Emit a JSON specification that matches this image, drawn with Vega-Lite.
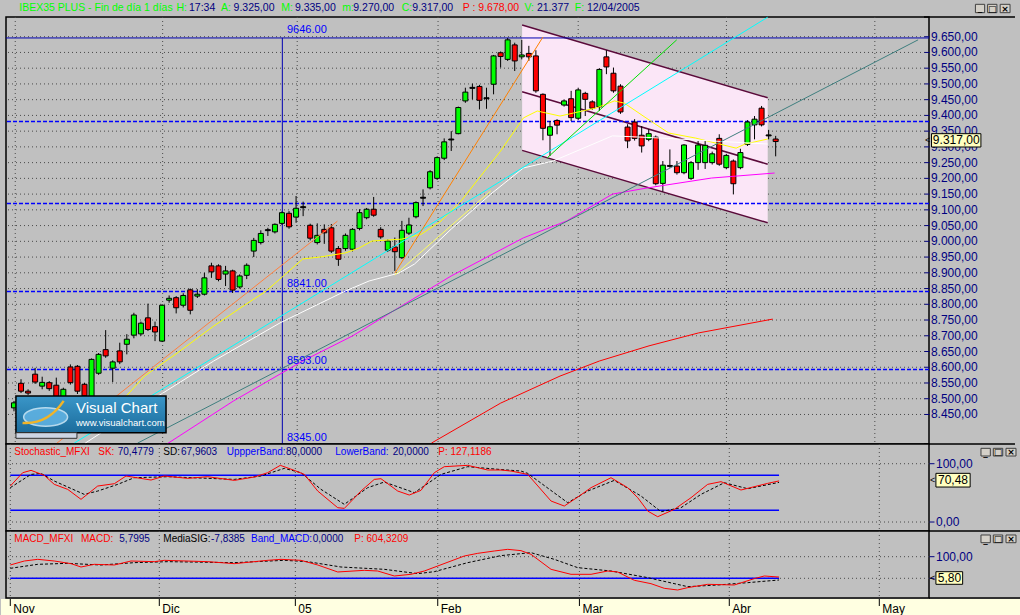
{
"$schema": "https://vega.github.io/schema/vega-lite/v6.json",
"background": "#c0c0c0",
"padding": 0,
"autosize": {"type": "pad"},
"spacing": 0,
"bounds": "flush",
"config": {"view": {"stroke": "#000000", "strokeWidth": 1.5, "fill": "#c0c0c0"}, "font": "Liberation Sans"},
"data": {"values": [{}]},
"datasets": {
"candles": [
{"i":1,"o":8471,"h":8493,"l":8460,"c":8487},{"i":2,"o":8549,"h":8562,"l":8518,"c":8524},{"i":3,"o":8524,"h":8530,"l":8512,"c":8518},{"i":4,"o":8578,"h":8598,"l":8547,"c":8553},{"i":5,"o":8540,"h":8570,"l":8530,"c":8552},{"i":6,"o":8551,"h":8556,"l":8525,"c":8532},{"i":7,"o":8543,"h":8567,"l":8490,"c":8503},{"i":8,"o":8499,"h":8535,"l":8490,"c":8530},{"i":9,"o":8601,"h":8609,"l":8545,"c":8551},{"i":10,"o":8603,"h":8607,"l":8515,"c":8524},
{"i":11,"o":8546,"h":8550,"l":8495,"c":8509},{"i":12,"o":8493,"h":8628,"l":8488,"c":8625},{"i":13,"o":8581,"h":8645,"l":8576,"c":8641},{"i":14,"o":8656,"h":8718,"l":8630,"c":8636},{"i":15,"o":8597,"h":8622,"l":8553,"c":8617},{"i":16,"o":8652,"h":8678,"l":8610,"c":8617},{"i":17,"o":8673,"h":8705,"l":8641,"c":8689},{"i":18,"o":8702,"h":8773,"l":8692,"c":8766},{"i":19,"o":8706,"h":8745,"l":8700,"c":8740},{"i":20,"o":8757,"h":8802,"l":8715,"c":8720},
{"i":21,"o":8729,"h":8745,"l":8683,"c":8712},{"i":22,"o":8683,"h":8800,"l":8680,"c":8797},{"i":23,"o":8813,"h":8828,"l":8805,"c":8819},{"i":24,"o":8821,"h":8826,"l":8771,"c":8789},{"i":25,"o":8797,"h":8835,"l":8790,"c":8828},{"i":26,"o":8846,"h":8850,"l":8768,"c":8781},{"i":27,"o":8826,"h":8848,"l":8820,"c":8832},{"i":28,"o":8832,"h":8900,"l":8828,"c":8884},{"i":29,"o":8922,"h":8932,"l":8884,"c":8903},{"i":30,"o":8922,"h":8927,"l":8873,"c":8879},
{"i":31,"o":8896,"h":8922,"l":8858,"c":8906},{"i":32,"o":8906,"h":8910,"l":8836,"c":8845},{"i":33,"o":8855,"h":8895,"l":8850,"c":8890},{"i":34,"o":8892,"h":8930,"l":8880,"c":8924},{"i":35,"o":8969,"h":9011,"l":8950,"c":9003},{"i":36,"o":8996,"h":9035,"l":8990,"c":9025},{"i":37,"o":9034,"h":9043,"l":9017,"c":9037},{"i":38,"o":9030,"h":9057,"l":9025,"c":9054},{"i":39,"o":9057,"h":9095,"l":9052,"c":9091},{"i":40,"o":9089,"h":9096,"l":9040,"c":9046},
{"i":41,"o":9077,"h":9144,"l":9059,"c":9105},{"i":42,"o":9107,"h":9126,"l":9080,"c":9110},{"i":43,"o":9051,"h":9056,"l":9003,"c":9010},{"i":44,"o":8996,"h":9057,"l":8990,"c":9019},{"i":45,"o":9038,"h":9054,"l":8992,"c":9027},{"i":46,"o":9043,"h":9055,"l":8963,"c":8969},{"i":47,"o":8977,"h":8985,"l":8922,"c":8943},{"i":48,"o":8977,"h":9025,"l":8970,"c":9019},{"i":49,"o":8975,"h":9042,"l":8968,"c":9038},{"i":50,"o":9041,"h":9102,"l":9035,"c":9091},
{"i":51,"o":9075,"h":9106,"l":9070,"c":9102},{"i":52,"o":9102,"h":9141,"l":9078,"c":9083},{"i":53,"o":9038,"h":9045,"l":9008,"c":9014},{"i":54,"o":8972,"h":9006,"l":8966,"c":9001},{"i":55,"o":8982,"h":9012,"l":8906,"c":8967},{"i":56,"o":8948,"h":9065,"l":8944,"c":9035},{"i":57,"o":9026,"h":9075,"l":9020,"c":9052},{"i":58,"o":9078,"h":9127,"l":9073,"c":9123},{"i":59,"o":9137,"h":9165,"l":9112,"c":9140},{"i":60,"o":9170,"h":9226,"l":9165,"c":9221},
{"i":61,"o":9200,"h":9270,"l":9195,"c":9266},{"i":62,"o":9264,"h":9327,"l":9258,"c":9316},{"i":63,"o":9322,"h":9350,"l":9287,"c":9325},{"i":64,"o":9342,"h":9428,"l":9340,"c":9425},{"i":65,"o":9446,"h":9488,"l":9440,"c":9474},{"i":66,"o":9486,"h":9501,"l":9451,"c":9489},{"i":67,"o":9492,"h":9497,"l":9419,"c":9448},{"i":68,"o":9456,"h":9488,"l":9421,"c":9453},{"i":69,"o":9499,"h":9592,"l":9467,"c":9589},{"i":70,"o":9599,"h":9603,"l":9552,"c":9587},
{"i":71,"o":9578,"h":9646,"l":9573,"c":9640},{"i":72,"o":9624,"h":9631,"l":9541,"c":9573},{"i":73,"o":9586,"h":9640,"l":9578,"c":9592},{"i":74,"o":9597,"h":9621,"l":9573,"c":9586},{"i":75,"o":9589,"h":9607,"l":9472,"c":9478},{"i":76,"o":9467,"h":9470,"l":9321,"c":9359},{"i":77,"o":9337,"h":9382,"l":9271,"c":9364},{"i":78,"o":9384,"h":9388,"l":9340,"c":9369},{"i":79,"o":9433,"h":9451,"l":9428,"c":9446},{"i":80,"o":9453,"h":9478,"l":9382,"c":9393},
{"i":81,"o":9391,"h":9488,"l":9385,"c":9481},{"i":82,"o":9470,"h":9475,"l":9398,"c":9451},{"i":83,"o":9443,"h":9448,"l":9418,"c":9423},{"i":84,"o":9427,"h":9550,"l":9414,"c":9546},{"i":85,"o":9586,"h":9607,"l":9531,"c":9554},{"i":86,"o":9534,"h":9552,"l":9472,"c":9478},{"i":87,"o":9493,"h":9499,"l":9405,"c":9411},{"i":88,"o":9363,"h":9372,"l":9296,"c":9319},{"i":89,"o":9379,"h":9388,"l":9320,"c":9327},{"i":90,"o":9337,"h":9366,"l":9282,"c":9303},
{"i":91,"o":9324,"h":9356,"l":9318,"c":9342},{"i":92,"o":9331,"h":9336,"l":9178,"c":9183},{"i":93,"o":9184,"h":9255,"l":9158,"c":9242},{"i":94,"o":9238,"h":9292,"l":9234,"c":9241},{"i":95,"o":9239,"h":9255,"l":9212,"c":9218},{"i":96,"o":9218,"h":9309,"l":9213,"c":9306},{"i":97,"o":9200,"h":9255,"l":9195,"c":9250},{"i":98,"o":9250,"h":9319,"l":9227,"c":9306},{"i":99,"o":9250,"h":9319,"l":9230,"c":9305},{"i":100,"o":9250,"h":9285,"l":9244,"c":9278},
{"i":101,"o":9327,"h":9340,"l":9240,"c":9245},{"i":102,"o":9234,"h":9278,"l":9229,"c":9273},{"i":103,"o":9255,"h":9260,"l":9149,"c":9183},{"i":104,"o":9234,"h":9294,"l":9229,"c":9282},{"i":105,"o":9308,"h":9385,"l":9303,"c":9379},{"i":106,"o":9370,"h":9398,"l":9324,"c":9388},{"i":107,"o":9423,"h":9430,"l":9365,"c":9370},{"i":108,"o":9335,"h":9354,"l":9324,"c":9338},{"i":109,"o":9325,"h":9335,"l":9270,"c":9317}
],
"lines": [
{"s":"yellow","i":13.2,"p":8413},{"s":"yellow","i":16.29,"p":8493},{"s":"yellow","i":19.51,"p":8572},{"s":"yellow","i":24.14,"p":8645},{"s":"yellow","i":29.33,"p":8731},{"s":"yellow","i":33.54,"p":8795},{"s":"yellow","i":36.76,"p":8842},{"s":"yellow","i":41.95,"p":8944},{"s":"yellow","i":44.34,"p":8950},{"s":"yellow","i":47.98,"p":8963},{"s":"yellow","i":49.95,"p":8979},{"s":"yellow","i":51.77,"p":9001},{"s":"yellow","i":55.98,"p":9007},{"s":"yellow","i":58.78,"p":9023},{"s":"yellow","i":61.59,"p":9065},{"s":"yellow","i":64.39,"p":9128},{"s":"yellow","i":67.2,"p":9208},{"s":"yellow","i":70.0,"p":9287},{"s":"yellow","i":73.23,"p":9392},{"s":"yellow","i":75.19,"p":9414},{"s":"yellow","i":78.42,"p":9398},{"s":"yellow","i":83.61,"p":9424},{"s":"yellow","i":86.13,"p":9446},{"s":"yellow","i":87.54,"p":9439},{"s":"yellow","i":90.62,"p":9392},{"s":"yellow","i":93.85,"p":9344},{"s":"yellow","i":97.64,"p":9328},{"s":"yellow","i":103.39,"p":9296},{"s":"yellow","i":104.65,"p":9309},{"s":"yellow","i":107.87,"p":9325},
{"s":"white","i":11.1,"p":8359},{"s":"white","i":21.9,"p":8515},{"s":"white","i":29.33,"p":8620},{"s":"white","i":38.73,"p":8741},{"s":"white","i":47.98,"p":8842},{"s":"white","i":51.35,"p":8874},{"s":"white","i":55.56,"p":8899},{"s":"white","i":57.8,"p":8928},{"s":"white","i":63.0,"p":9039},{"s":"white","i":68.6,"p":9150},{"s":"white","i":73.23,"p":9233},{"s":"white","i":77.44,"p":9255},{"s":"white","i":85.85,"p":9335},{"s":"white","i":92.86,"p":9328},{"s":"white","i":99.88,"p":9319},{"s":"white","i":107.87,"p":9309},
{"s":"magenta","i":22.74,"p":8357},{"s":"magenta","i":32.13,"p":8493},{"s":"magenta","i":41.95,"p":8620},{"s":"magenta","i":48.96,"p":8699},{"s":"magenta","i":55.98,"p":8795},{"s":"magenta","i":62.99,"p":8890},{"s":"magenta","i":73.23,"p":9011},{"s":"magenta","i":79.4,"p":9065},{"s":"magenta","i":85.85,"p":9150},{"s":"magenta","i":90.62,"p":9169},{"s":"magenta","i":99.88,"p":9201},{"s":"magenta","i":108.85,"p":9217},
{"s":"red","i":60.19,"p":8359},{"s":"red","i":70.0,"p":8486},{"s":"red","i":78.42,"p":8572},{"s":"red","i":84.03,"p":8620},{"s":"red","i":91.04,"p":8668},{"s":"red","i":98.06,"p":8709},{"s":"red","i":108.58,"p":8753},
{"s":"teal","i":18.53,"p":8359},{"s":"teal","i":129.19,"p":9640},
{"s":"cyan","i":9.55,"p":8359},{"s":"cyan","i":107.87,"p":9712},
{"s":"orange","i":7.1,"p":8359},{"s":"orange","i":46.86,"p":9064},
{"s":"orange2","i":55.0,"p":8899},{"s":"orange2","i":76.0,"p":9649},
{"s":"yellow2","i":55.0,"p":8893},{"s":"yellow2","i":68.6,"p":9160},
{"s":"green","i":76.6,"p":9265},{"s":"green","i":94.97,"p":9640}
],
"chan": [{"i":73.05,"top":9687,"bot":9289},{"i":107.87,"top":9456,"bot":9059}],
"chanlines": [{"s":"top","i":73.05,"p":9687},{"s":"top","i":107.87,"p":9456},{"s":"mid","i":73.05,"p":9475},{"s":"mid","i":107.87,"p":9245},{"s":"bot","i":73.05,"p":9289},{"s":"bot","i":107.87,"p":9059}],
"levels": [{"p":9380.6},{"p":9120.2},{"p":8840.6},{"p":8592.8}],
"ytm": [{"v":8450,"lab":"8.450,00"},{"v":8500,"lab":"8.500,00"},{"v":8550,"lab":"8.550,00"},{"v":8600,"lab":"8.600,00"},{"v":8650,"lab":"8.650,00"},{"v":8700,"lab":"8.700,00"},{"v":8750,"lab":"8.750,00"},{"v":8800,"lab":"8.800,00"},{"v":8850,"lab":"8.850,00"},{"v":8900,"lab":"8.900,00"},{"v":8950,"lab":"8.950,00"},{"v":9000,"lab":"9.000,00"},{"v":9050,"lab":"9.050,00"},{"v":9100,"lab":"9.100,00"},{"v":9150,"lab":"9.150,00"},{"v":9200,"lab":"9.200,00"},{"v":9250,"lab":"9.250,00"},{"v":9300,"lab":"9.300,00"},{"v":9350,"lab":"9.350,00"},{"v":9400,"lab":"9.400,00"},{"v":9450,"lab":"9.450,00"},{"v":9500,"lab":"9.500,00"},{"v":9550,"lab":"9.550,00"},{"v":9600,"lab":"9.600,00"},{"v":9650,"lab":"9.650,00"}],
"ytk": [{"v":0,"lab":"0,00"},{"v":100,"lab":"100,00"}],
"stoch": [
{"s":"SK","i":1.18,"v":61.7},{"s":"SK","i":2.92,"v":84.6},{"s":"SK","i":4.09,"v":88.6},{"s":"SK","i":5.95,"v":80},{"s":"SK","i":7.35,"v":64.6},{"s":"SK","i":9.23,"v":56},{"s":"SK","i":11.1,"v":38.9},{"s":"SK","i":13.44,"v":61.7},{"s":"SK","i":15.77,"v":65.7},{"s":"SK","i":17.41,"v":78.9},{"s":"SK","i":20.92,"v":72},{"s":"SK","i":22.78,"v":78.9},{"s":"SK","i":26.06,"v":74.9},{"s":"SK","i":28.87,"v":77.7},{"s":"SK","i":32.6,"v":71.4},{"s":"SK","i":35.4,"v":77.2},{"s":"SK","i":37.28,"v":84.6},{"s":"SK","i":39.05,"v":97.2},{"s":"SK","i":41.01,"v":88.6},{"s":"SK","i":42.42,"v":81.7},{"s":"SK","i":44.3,"v":53.1},{"s":"SK","i":47.1,"v":24.6},{"s":"SK","i":48.03,"v":23.4},{"s":"SK","i":50.37,"v":53.1},{"s":"SK","i":52.23,"v":73.1},{"s":"SK","i":53.17,"v":74.3},{"s":"SK","i":55.52,"v":53.1},{"s":"SK","i":57.14,"v":46.3},{"s":"SK","i":58.78,"v":54.3},{"s":"SK","i":60.65,"v":84.6},{"s":"SK","i":62.05,"v":94.9},{"s":"SK","i":65.33,"v":97.2},{"s":"SK","i":68.14,"v":89.2},{"s":"SK","i":70.0,"v":89.2},{"s":"SK","i":71.41,"v":87.4},{"s":"SK","i":73.75,"v":81.7},{"s":"SK","i":77.02,"v":36},{"s":"SK","i":78.88,"v":27.4},{"s":"SK","i":80.99,"v":44.6},{"s":"SK","i":82.63,"v":58.9},{"s":"SK","i":85.43,"v":76},{"s":"SK","i":87.77,"v":58.9},{"s":"SK","i":89.18,"v":41.7},{"s":"SK","i":90.58,"v":18.8},{"s":"SK","i":91.98,"v":9.1},{"s":"SK","i":94.31,"v":21.7},{"s":"SK","i":96.65,"v":41.7},{"s":"SK","i":98.99,"v":64.6},{"s":"SK","i":100.86,"v":69.2},{"s":"SK","i":103.66,"v":54.9},{"s":"SK","i":107.41,"v":66.3},{"s":"SK","i":109,"v":70.5},
{"s":"SD","i":1.18,"v":58.9},{"s":"SD","i":4.09,"v":81.7},{"s":"SD","i":5.49,"v":83.4},{"s":"SD","i":7.35,"v":70.3},{"s":"SD","i":11.56,"v":47.4},{"s":"SD","i":13.44,"v":53.1},{"s":"SD","i":16.25,"v":64.6},{"s":"SD","i":18.57,"v":76},{"s":"SD","i":23.26,"v":77.7},{"s":"SD","i":32.6,"v":73.1},{"s":"SD","i":36.34,"v":78.9},{"s":"SD","i":39.61,"v":92},{"s":"SD","i":41.95,"v":84.6},{"s":"SD","i":44.76,"v":56},{"s":"SD","i":48.03,"v":30.3},{"s":"SD","i":51.31,"v":58.9},{"s":"SD","i":53.64,"v":68.6},{"s":"SD","i":57.85,"v":50.3},{"s":"SD","i":61.59,"v":81.7},{"s":"SD","i":65.33,"v":94.9},{"s":"SD","i":70.0,"v":90},{"s":"SD","i":72.81,"v":87.4},{"s":"SD","i":73.75,"v":83.4},{"s":"SD","i":79.36,"v":33.1},{"s":"SD","i":82.16,"v":53.1},{"s":"SD","i":85.89,"v":71.4},{"s":"SD","i":89.64,"v":44.6},{"s":"SD","i":92.44,"v":17.7},{"s":"SD","i":95.25,"v":24.6},{"s":"SD","i":98.05,"v":47.4},{"s":"SD","i":101.32,"v":67.4},{"s":"SD","i":104.6,"v":57.1},{"s":"SD","i":109,"v":68.0}
],
"macd": [
{"s":"M","i":1.18,"v":61.6},{"s":"M","i":3.15,"v":80.1},{"s":"M","i":5.03,"v":87.8},{"s":"M","i":7.35,"v":80.1},{"s":"M","i":9.7,"v":67.8},{"s":"M","i":11.1,"v":52.3},{"s":"M","i":12.96,"v":64.7},{"s":"M","i":15.77,"v":61.6},{"s":"M","i":18.11,"v":80.1},{"s":"M","i":21.38,"v":77},{"s":"M","i":22.78,"v":83.2},{"s":"M","i":28.87,"v":77},{"s":"M","i":32.6,"v":67.8},{"s":"M","i":37.28,"v":83.2},{"s":"M","i":39.15,"v":87.8},{"s":"M","i":41.95,"v":83.2},{"s":"M","i":44.3,"v":61.6},{"s":"M","i":47.1,"v":29.3},{"s":"M","i":50.83,"v":36.9},{"s":"M","i":52.71,"v":33.8},{"s":"M","i":55.04,"v":10.7},{"s":"M","i":57.38,"v":18.4},{"s":"M","i":59.25,"v":33.8},{"s":"M","i":61.13,"v":57},{"s":"M","i":64.86,"v":103.3},{"s":"M","i":66.74,"v":115.6},{"s":"M","i":69.06,"v":126.4},{"s":"M","i":70.94,"v":134.1},{"s":"M","i":72.81,"v":128},{"s":"M","i":74.21,"v":111},{"s":"M","i":77.02,"v":41.6},{"s":"M","i":79.82,"v":18.4},{"s":"M","i":82.63,"v":18.4},{"s":"M","i":84.97,"v":33.8},{"s":"M","i":86.37,"v":29.3},{"s":"M","i":88.7,"v":-9.3},{"s":"M","i":91.04,"v":-24.8},{"s":"M","i":92.9,"v":-46.4},{"s":"M","i":94.78,"v":-54.1},{"s":"M","i":96.18,"v":-43.3},{"s":"M","i":98.99,"v":-27.9},{"s":"M","i":102.72,"v":-31},{"s":"M","i":105.53,"v":-1.5},{"s":"M","i":106.93,"v":10.7},{"s":"M","i":109,"v":5.8},
{"s":"S","i":1.18,"v":46.2},{"s":"S","i":5.03,"v":64.7},{"s":"S","i":9.23,"v":69.3},{"s":"S","i":13.9,"v":61.6},{"s":"S","i":18.57,"v":72.4},{"s":"S","i":23.26,"v":77},{"s":"S","i":32.6,"v":72.4},{"s":"S","i":39.61,"v":83.2},{"s":"S","i":42.89,"v":77},{"s":"S","i":47.56,"v":52.3},{"s":"S","i":53.64,"v":41.6},{"s":"S","i":58.32,"v":21.5},{"s":"S","i":60.65,"v":30.7},{"s":"S","i":65.33,"v":72.4},{"s":"S","i":70.0,"v":105},{"s":"S","i":74.21,"v":118.7},{"s":"S","i":77.48,"v":87.8},{"s":"S","i":80.76,"v":49.3},{"s":"S","i":85.43,"v":33.8},{"s":"S","i":90.58,"v":3.1},{"s":"S","i":96.18,"v":-38.7},{"s":"S","i":100.39,"v":-31},{"s":"S","i":104.6,"v":-20.2},{"s":"S","i":109,"v":-7.8}
],
"months": [{"m":"Nov","i":1.18},{"m":"Dic","i":22.08},{"m":"05","i":41.16},{"m":"Feb","i":61.13},{"m":"Mar","i":81.0},{"m":"Abr","i":102.02},{"m":"May","i":123.06}]
},
"vconcat": [
{
"width": 923, "height": 427,
"layer": [
{"mark":{"type":"rect","fill":"#c0c0c0"},"encoding":{"x":{"datum":-0.122,"type":"quantitative","scale":{"domain":[0.579,130.03],"nice":false,"zero":false},"axis":null},"x2":{"datum":142.93},"y":{"datum":9763.4,"type":"quantitative","scale":{"domain":[8356.2,9712.6],"nice":false,"zero":false},"axis":null},"y2":{"datum":9716}}},
{"data":{"name":"months"},"mark":{"type":"rule","color":"#4a4a4a","strokeDash":[1,3],"strokeWidth":1},"encoding":{"x":{"field":"i","type":"quantitative","scale":{"domain":[0.579,130.03],"nice":false,"zero":false},"axis":null}}},
{"data":{"name":"ytm"},"mark":{"type":"rule","color":"#4a4a4a","strokeDash":[1,3],"strokeWidth":1},"encoding":{"y":{"field":"v","type":"quantitative","scale":{"domain":[8356.2,9712.6],"nice":false,"zero":false},"axis":null}}},
{"data":{"name":"chan"},"mark":{"type":"area","color":"#fbe6f7","opacity":1},"encoding":{"x":{"field":"i","type":"quantitative","scale":{"domain":[0.579,130.03],"nice":false,"zero":false},"axis":null},"y":{"field":"top","type":"quantitative","scale":{"domain":[8356.2,9712.6],"nice":false,"zero":false},"axis":null},"y2":{"field":"bot"}}},
{"data":{"name":"chanlines"},"mark":{"type":"line","color":"#5a0a3a","strokeWidth":1.5},"encoding":{"x":{"field":"i","type":"quantitative","scale":{"domain":[0.579,130.03],"nice":false,"zero":false},"axis":null},"y":{"field":"p","type":"quantitative","scale":{"domain":[8356.2,9712.6],"nice":false,"zero":false},"axis":null},"detail":{"field":"s"}}},
{"data":{"name":"levels"},"mark":{"type":"rule","color":"#0000ff","strokeDash":[4,2],"strokeWidth":1.3},"encoding":{"y":{"field":"p","type":"quantitative","scale":{"domain":[8356.2,9712.6],"nice":false,"zero":false},"axis":null}}},
{"mark":{"type":"rule","color":"#0000b0","strokeWidth":1},"encoding":{"y":{"datum":9646,"type":"quantitative","scale":{"domain":[8356.2,9712.6],"nice":false,"zero":false},"axis":null}}},
{"mark":{"type":"rule","color":"#0000b0","strokeWidth":1},"encoding":{"x":{"datum":39.05,"type":"quantitative","scale":{"domain":[0.579,130.03],"nice":false,"zero":false},"axis":null},"y":{"datum":9646,"type":"quantitative","scale":{"domain":[8356.2,9712.6],"nice":false,"zero":false},"axis":null},"y2":{"datum":8356.2}}},
{"data":{"name":"candles"},"mark":{"type":"rule","color":"#000000","strokeWidth":1},"encoding":{"x":{"field":"i","type":"quantitative","scale":{"domain":[0.579,130.03],"nice":false,"zero":false},"axis":null},"y":{"field":"l","type":"quantitative","scale":{"domain":[8356.2,9712.6],"nice":false,"zero":false},"axis":null},"y2":{"field":"h"}}},
{"data":{"name":"candles"},"mark":{"type":"bar","orient":"vertical","size":5,"stroke":"#000000","strokeWidth":1},"encoding":{"x":{"field":"i","type":"quantitative","scale":{"domain":[0.579,130.03],"nice":false,"zero":false},"axis":null},"y":{"field":"o","type":"quantitative","scale":{"domain":[8356.2,9712.6],"nice":false,"zero":false},"axis":null},"y2":{"field":"c"},"fill":{"condition":[{"test":"datum.c - datum.o > 4","value":"#00ff00"},{"test":"datum.o - datum.c > 4","value":"#ff0000"}],"value":"#000000"}}},
{"data":{"name":"lines"},"mark":{"type":"line","strokeWidth":1},"encoding":{"x":{"field":"i","type":"quantitative","scale":{"domain":[0.579,130.03],"nice":false,"zero":false},"axis":null},"y":{"field":"p","type":"quantitative","scale":{"domain":[8356.2,9712.6],"nice":false,"zero":false},"axis":null},"color":{"field":"s","type":"nominal","scale":{"domain":["yellow","white","magenta","red","teal","cyan","orange","orange2","yellow2","green"],"range":["#ffff00","#ffffff","#ff00ff","#ff0000","#3f7f7f","#00ffff","#ff8040","#ff8000","#ffff60","#00e000"]},"legend":null}}},
{"mark":{"type":"rect","stroke":"#000000","strokeWidth":1.5,"fill":{"gradient":"linear","x1":0,"y1":0,"x2":0,"y2":1,"stops":[{"offset":0,"color":"#3a96c8"},{"offset":1,"color":"#1b6c9c"}]}},"encoding":{"x":{"datum":1.28,"type":"quantitative","scale":{"domain":[0.579,130.03],"nice":false,"zero":false},"axis":null},"x2":{"datum":22.56},"y":{"datum":8508.6,"type":"quantitative","scale":{"domain":[8356.2,9712.6],"nice":false,"zero":false},"axis":null},"y2":{"datum":8392.1}}},
{"mark":{"type":"rect","stroke":"#303030","strokeWidth":1,"fill":"#cdd5e3"},"encoding":{"x":{"datum":1.28,"type":"quantitative","scale":{"domain":[0.579,130.03],"nice":false,"zero":false},"axis":null},"x2":{"datum":9.93},"y":{"datum":8392.1,"type":"quantitative","scale":{"domain":[8356.2,9712.6],"nice":false,"zero":false},"axis":null},"y2":{"datum":8374.3}}},
{"mark":{"type":"point","shape":"M-1,0A1,0.42,0,1,0,1,0A1,0.42,0,1,0,-1,0Z","size":1936,"filled":true,"fill":"#62b4e4","stroke":"#cfeaf8","strokeWidth":1.5,"opacity":0.85},"encoding":{"x":{"datum":5.49,"type":"quantitative","scale":{"domain":[0.579,130.03],"nice":false,"zero":false},"axis":null},"y":{"datum":8442.0,"type":"quantitative","scale":{"domain":[8356.2,9712.6],"nice":false,"zero":false},"axis":null}}},
{"mark":{"type":"point","shape":"M-1.05,0.27Q0.1,0.35,0.82,-0.73","size":1936,"filled":false,"stroke":"#f0b428","strokeWidth":2.5,"opacity":1},"encoding":{"x":{"datum":5.49,"type":"quantitative","scale":{"domain":[0.579,130.03],"nice":false,"zero":false},"axis":null},"y":{"datum":8442.0,"type":"quantitative","scale":{"domain":[8356.2,9712.6],"nice":false,"zero":false},"axis":null}}},
{"mark":{"type":"text","align":"left","baseline":"middle","fontSize":15,"color":"#ffffff"},"encoding":{"x":{"datum":9.79,"type":"quantitative","scale":{"domain":[0.579,130.03],"nice":false,"zero":false},"axis":null},"y":{"datum":8469.6,"type":"quantitative","scale":{"domain":[8356.2,9712.6],"nice":false,"zero":false},"axis":null},"text":{"value":"Visual Chart"}}},
{"mark":{"type":"text","align":"left","baseline":"middle","fontSize":9.5,"color":"#ffffff"},"encoding":{"x":{"datum":9.79,"type":"quantitative","scale":{"domain":[0.579,130.03],"nice":false,"zero":false},"axis":null},"y":{"datum":8423.9,"type":"quantitative","scale":{"domain":[8356.2,9712.6],"nice":false,"zero":false},"axis":null},"text":{"value":"www.visualchart.com"}}},
{"mark":{"type":"text","align":"left","baseline":"middle","fontSize":11,"color":"#0000ff"},"encoding":{"x":{"datum":39.71,"type":"quantitative","scale":{"domain":[0.579,130.03],"nice":false,"zero":false},"axis":null},"y":{"datum":9671.3,"type":"quantitative","scale":{"domain":[8356.2,9712.6],"nice":false,"zero":false},"axis":null},"text":{"value":"9646.00"}}},
{"mark":{"type":"text","align":"left","baseline":"middle","fontSize":11,"color":"#0000ff"},"encoding":{"x":{"datum":39.71,"type":"quantitative","scale":{"domain":[0.579,130.03],"nice":false,"zero":false},"axis":null},"y":{"datum":8864.4,"type":"quantitative","scale":{"domain":[8356.2,9712.6],"nice":false,"zero":false},"axis":null},"text":{"value":"8841.00"}}},
{"mark":{"type":"text","align":"left","baseline":"middle","fontSize":11,"color":"#0000ff"},"encoding":{"x":{"datum":39.71,"type":"quantitative","scale":{"domain":[0.579,130.03],"nice":false,"zero":false},"axis":null},"y":{"datum":8619.8,"type":"quantitative","scale":{"domain":[8356.2,9712.6],"nice":false,"zero":false},"axis":null},"text":{"value":"8593.00"}}},
{"mark":{"type":"text","align":"left","baseline":"middle","fontSize":11,"color":"#0000ff"},"encoding":{"x":{"datum":39.71,"type":"quantitative","scale":{"domain":[0.579,130.03],"nice":false,"zero":false},"axis":null},"y":{"datum":8375.2,"type":"quantitative","scale":{"domain":[8356.2,9712.6],"nice":false,"zero":false},"axis":null},"text":{"value":"8345.00"}}},
{"layer":[
{"mark":{"type":"text","align":"left","baseline":"middle","fontSize":10.5,"color":"#00ff00"},"encoding":{"x":{"datum":1.743,"type":"quantitative","scale":{"domain":[0.579,130.03],"nice":false,"zero":false},"axis":null},"y":{"datum":9741.2,"type":"quantitative","scale":{"domain":[8356.2,9712.6],"nice":false,"zero":false},"axis":null},"text":{"value":"IBEX35 PLUS - Fin de día 1 días"}}},
{"mark":{"type":"text","align":"left","baseline":"middle","fontSize":10.5,"color":"#00ff00"},"encoding":{"x":{"datum":24.04,"type":"quantitative","scale":{"domain":[0.579,130.03],"nice":false,"zero":false},"axis":null},"y":{"datum":9741.2,"type":"quantitative","scale":{"domain":[8356.2,9712.6],"nice":false,"zero":false},"axis":null},"text":{"value":"H:"}}},
{"mark":{"type":"text","align":"left","baseline":"middle","fontSize":10.5,"color":"#000080"},"encoding":{"x":{"datum":25.82,"type":"quantitative","scale":{"domain":[0.579,130.03],"nice":false,"zero":false},"axis":null},"y":{"datum":9741.2,"type":"quantitative","scale":{"domain":[8356.2,9712.6],"nice":false,"zero":false},"axis":null},"text":{"value":"17:34"}}},
{"mark":{"type":"text","align":"left","baseline":"middle","fontSize":10.5,"color":"#00ff00"},"encoding":{"x":{"datum":30.35,"type":"quantitative","scale":{"domain":[0.579,130.03],"nice":false,"zero":false},"axis":null},"y":{"datum":9741.2,"type":"quantitative","scale":{"domain":[8356.2,9712.6],"nice":false,"zero":false},"axis":null},"text":{"value":"A:"}}},
{"mark":{"type":"text","align":"left","baseline":"middle","fontSize":10.5,"color":"#000080"},"encoding":{"x":{"datum":32.14,"type":"quantitative","scale":{"domain":[0.579,130.03],"nice":false,"zero":false},"axis":null},"y":{"datum":9741.2,"type":"quantitative","scale":{"domain":[8356.2,9712.6],"nice":false,"zero":false},"axis":null},"text":{"value":"9.325,00"}}},
{"mark":{"type":"text","align":"left","baseline":"middle","fontSize":10.5,"color":"#00ff00"},"encoding":{"x":{"datum":38.91,"type":"quantitative","scale":{"domain":[0.579,130.03],"nice":false,"zero":false},"axis":null},"y":{"datum":9741.2,"type":"quantitative","scale":{"domain":[8356.2,9712.6],"nice":false,"zero":false},"axis":null},"text":{"value":"M:"}}},
{"mark":{"type":"text","align":"left","baseline":"middle","fontSize":10.5,"color":"#000080"},"encoding":{"x":{"datum":40.83,"type":"quantitative","scale":{"domain":[0.579,130.03],"nice":false,"zero":false},"axis":null},"y":{"datum":9741.2,"type":"quantitative","scale":{"domain":[8356.2,9712.6],"nice":false,"zero":false},"axis":null},"text":{"value":"9.335,00"}}},
{"mark":{"type":"text","align":"left","baseline":"middle","fontSize":10.5,"color":"#00ff00"},"encoding":{"x":{"datum":47.56,"type":"quantitative","scale":{"domain":[0.579,130.03],"nice":false,"zero":false},"axis":null},"y":{"datum":9741.2,"type":"quantitative","scale":{"domain":[8356.2,9712.6],"nice":false,"zero":false},"axis":null},"text":{"value":"m:"}}},
{"mark":{"type":"text","align":"left","baseline":"middle","fontSize":10.5,"color":"#000080"},"encoding":{"x":{"datum":49.11,"type":"quantitative","scale":{"domain":[0.579,130.03],"nice":false,"zero":false},"axis":null},"y":{"datum":9741.2,"type":"quantitative","scale":{"domain":[8356.2,9712.6],"nice":false,"zero":false},"axis":null},"text":{"value":"9.270,00"}}},
{"mark":{"type":"text","align":"left","baseline":"middle","fontSize":10.5,"color":"#00ff00"},"encoding":{"x":{"datum":55.98,"type":"quantitative","scale":{"domain":[0.579,130.03],"nice":false,"zero":false},"axis":null},"y":{"datum":9741.2,"type":"quantitative","scale":{"domain":[8356.2,9712.6],"nice":false,"zero":false},"axis":null},"text":{"value":"C:"}}},
{"mark":{"type":"text","align":"left","baseline":"middle","fontSize":10.5,"color":"#000080"},"encoding":{"x":{"datum":57.48,"type":"quantitative","scale":{"domain":[0.579,130.03],"nice":false,"zero":false},"axis":null},"y":{"datum":9741.2,"type":"quantitative","scale":{"domain":[8356.2,9712.6],"nice":false,"zero":false},"axis":null},"text":{"value":"9.317,00"}}},
{"mark":{"type":"text","align":"left","baseline":"middle","fontSize":10.5,"color":"#ff0000"},"encoding":{"x":{"datum":64.63,"type":"quantitative","scale":{"domain":[0.579,130.03],"nice":false,"zero":false},"axis":null},"y":{"datum":9741.2,"type":"quantitative","scale":{"domain":[8356.2,9712.6],"nice":false,"zero":false},"axis":null},"text":{"value":"P : 9.678,00"}}},
{"mark":{"type":"text","align":"left","baseline":"middle","fontSize":10.5,"color":"#00ff00"},"encoding":{"x":{"datum":73.37,"type":"quantitative","scale":{"domain":[0.579,130.03],"nice":false,"zero":false},"axis":null},"y":{"datum":9741.2,"type":"quantitative","scale":{"domain":[8356.2,9712.6],"nice":false,"zero":false},"axis":null},"text":{"value":"V:"}}},
{"mark":{"type":"text","align":"left","baseline":"middle","fontSize":10.5,"color":"#000080"},"encoding":{"x":{"datum":75.15,"type":"quantitative","scale":{"domain":[0.579,130.03],"nice":false,"zero":false},"axis":null},"y":{"datum":9741.2,"type":"quantitative","scale":{"domain":[8356.2,9712.6],"nice":false,"zero":false},"axis":null},"text":{"value":"21.377"}}},
{"mark":{"type":"text","align":"left","baseline":"middle","fontSize":10.5,"color":"#00ff00"},"encoding":{"x":{"datum":80.52,"type":"quantitative","scale":{"domain":[0.579,130.03],"nice":false,"zero":false},"axis":null},"y":{"datum":9741.2,"type":"quantitative","scale":{"domain":[8356.2,9712.6],"nice":false,"zero":false},"axis":null},"text":{"value":"F:"}}},
{"mark":{"type":"text","align":"left","baseline":"middle","fontSize":10.5,"color":"#000080"},"encoding":{"x":{"datum":82.25,"type":"quantitative","scale":{"domain":[0.579,130.03],"nice":false,"zero":false},"axis":null},"y":{"datum":9741.2,"type":"quantitative","scale":{"domain":[8356.2,9712.6],"nice":false,"zero":false},"axis":null},"text":{"value":"12/04/2005"}}}
]},
{"layer":[
{"mark":{"type":"rect","fill":"#d4d0c8","stroke":"#404040","strokeWidth":1},"encoding":{"x":{"datum":137.32,"type":"quantitative","scale":{"domain":[0.579,130.03],"nice":false,"zero":false},"axis":null},"x2":{"datum":138.63},"y":{"datum":9752.9,"type":"quantitative","scale":{"domain":[8356.2,9712.6],"nice":false,"zero":false},"axis":null},"y2":{"datum":9726.3}}},
{"mark":{"type":"rect","fill":"#d4d0c8","stroke":"#404040","strokeWidth":1},"encoding":{"x":{"datum":139.05,"type":"quantitative","scale":{"domain":[0.579,130.03],"nice":false,"zero":false},"axis":null},"x2":{"datum":140.37},"y":{"datum":9752.9,"type":"quantitative","scale":{"domain":[8356.2,9712.6],"nice":false,"zero":false},"axis":null},"y2":{"datum":9726.3}}},
{"mark":{"type":"rect","fill":"#d4d0c8","stroke":"#404040","strokeWidth":1},"encoding":{"x":{"datum":140.83,"type":"quantitative","scale":{"domain":[0.579,130.03],"nice":false,"zero":false},"axis":null},"x2":{"datum":142.23},"y":{"datum":9752.9,"type":"quantitative","scale":{"domain":[8356.2,9712.6],"nice":false,"zero":false},"axis":null},"y2":{"datum":9726.3}}},
{"mark":{"type":"text","align":"center","baseline":"middle","fontSize":9,"fontWeight":"bold","font":"DejaVu Sans","color":"#000000"},"encoding":{"x":{"datum":137.97,"type":"quantitative","scale":{"domain":[0.579,130.03],"nice":false,"zero":false},"axis":null},"y":{"datum":9741.2,"type":"quantitative","scale":{"domain":[8356.2,9712.6],"nice":false,"zero":false},"axis":null},"text":{"value":"_"}}},
{"mark":{"type":"text","align":"center","baseline":"middle","fontSize":9,"fontWeight":"bold","font":"DejaVu Sans","color":"#000000"},"encoding":{"x":{"datum":139.71,"type":"quantitative","scale":{"domain":[0.579,130.03],"nice":false,"zero":false},"axis":null},"y":{"datum":9739.5,"type":"quantitative","scale":{"domain":[8356.2,9712.6],"nice":false,"zero":false},"axis":null},"text":{"value":"□"}}},
{"mark":{"type":"text","align":"center","baseline":"middle","fontSize":9,"fontWeight":"bold","font":"DejaVu Sans","color":"#000000"},"encoding":{"x":{"datum":141.53,"type":"quantitative","scale":{"domain":[0.579,130.03],"nice":false,"zero":false},"axis":null},"y":{"datum":9739.5,"type":"quantitative","scale":{"domain":[8356.2,9712.6],"nice":false,"zero":false},"axis":null},"text":{"value":"×"}}}
]},
{"mark":{"type":"rule","color":"#000000","strokeWidth":1.5},"encoding":{"x":{"datum":130.03,"type":"quantitative","scale":{"domain":[0.579,130.03],"nice":false,"zero":false},"axis":null},"x2":{"datum":142.93},"y":{"datum":9712.6,"type":"quantitative","scale":{"domain":[8356.2,9712.6],"nice":false,"zero":false},"axis":null}}},
{"mark":{"type":"rule","color":"#000000","strokeWidth":1.5},"encoding":{"x":{"datum":130.03,"type":"quantitative","scale":{"domain":[0.579,130.03],"nice":false,"zero":false},"axis":null},"x2":{"datum":142.93},"y":{"datum":8356.2,"type":"quantitative","scale":{"domain":[8356.2,9712.6],"nice":false,"zero":false},"axis":null}}},
{"data":{"name":"ytm"},"mark":{"type":"rule","color":"#000080","strokeWidth":1},"encoding":{"x":{"datum":130.1,"type":"quantitative","scale":{"domain":[0.579,130.03],"nice":false,"zero":false},"axis":null},"x2":{"datum":130.8},"y":{"field":"v","type":"quantitative","scale":{"domain":[8356.2,9712.6],"nice":false,"zero":false},"axis":null}}},
{"data":{"name":"ytm"},"mark":{"type":"text","align":"left","baseline":"middle","fontSize":12,"color":"#000080"},"encoding":{"x":{"datum":131.01,"type":"quantitative","scale":{"domain":[0.579,130.03],"nice":false,"zero":false},"axis":null},"y":{"field":"v","type":"quantitative","scale":{"domain":[8356.2,9712.6],"nice":false,"zero":false},"axis":null},"text":{"field":"lab"}}},
{"mark":{"type":"rect","fill":"#ffffc0","stroke":"#000000","strokeWidth":1},"encoding":{"x":{"datum":131.1,"type":"quantitative","scale":{"domain":[0.579,130.03],"nice":false,"zero":false},"axis":null},"x2":{"datum":138.1},"y":{"datum":9341.9,"type":"quantitative","scale":{"domain":[8356.2,9712.6],"nice":false,"zero":false},"axis":null},"y2":{"datum":9299.6}}},
{"mark":{"type":"text","align":"center","baseline":"middle","fontSize":12,"color":"#000000"},"encoding":{"x":{"datum":134.6,"type":"quantitative","scale":{"domain":[0.579,130.03],"nice":false,"zero":false},"axis":null},"y":{"datum":9320.7,"type":"quantitative","scale":{"domain":[8356.2,9712.6],"nice":false,"zero":false},"axis":null},"text":{"value":"9.317,00"}}},
{"mark":{"type":"text","align":"center","baseline":"middle","fontSize":9,"color":"#000000"},"encoding":{"x":{"datum":130.55,"type":"quantitative","scale":{"domain":[0.579,130.03],"nice":false,"zero":false},"axis":null},"y":{"datum":9320.7,"type":"quantitative","scale":{"domain":[8356.2,9712.6],"nice":false,"zero":false},"axis":null},"text":{"value":"<"}}}
]
},
{
"width": 923, "height": 87,
"layer": [
{"data":{"name":"months"},"mark":{"type":"rule","color":"#4a4a4a","strokeDash":[1,3],"strokeWidth":1},"encoding":{"x":{"field":"i","type":"quantitative","scale":{"domain":[0.579,130.03],"nice":false,"zero":false},"axis":null}}},
{"data":{"name":"ytk"},"mark":{"type":"rule","color":"#4a4a4a","strokeDash":[1,3],"strokeWidth":1},"encoding":{"y":{"field":"v","type":"quantitative","scale":{"domain":[-15.4,133.8],"nice":false,"zero":false},"axis":null}}},
{"mark":{"type":"rule","color":"#0000ff","strokeWidth":1.5},"encoding":{"x":{"datum":1.18,"type":"quantitative","scale":{"domain":[0.579,130.03],"nice":false,"zero":false},"axis":null},"x2":{"datum":109},"y":{"datum":80,"type":"quantitative","scale":{"domain":[-15.4,133.8],"nice":false,"zero":false},"axis":null}}},
{"mark":{"type":"rule","color":"#0000ff","strokeWidth":1.5},"encoding":{"x":{"datum":1.18,"type":"quantitative","scale":{"domain":[0.579,130.03],"nice":false,"zero":false},"axis":null},"x2":{"datum":109},"y":{"datum":20,"type":"quantitative","scale":{"domain":[-15.4,133.8],"nice":false,"zero":false},"axis":null}}},
{"data":{"name":"stoch"},"transform":[{"filter":"datum.s == 'SD'"}],"mark":{"type":"line","color":"#000000","strokeWidth":1,"strokeDash":[3,2]},"encoding":{"x":{"field":"i","type":"quantitative","scale":{"domain":[0.579,130.03],"nice":false,"zero":false},"axis":null},"y":{"field":"v","type":"quantitative","scale":{"domain":[-15.4,133.8],"nice":false,"zero":false},"axis":null}}},
{"data":{"name":"stoch"},"transform":[{"filter":"datum.s == 'SK'"}],"mark":{"type":"line","color":"#ff0000","strokeWidth":1},"encoding":{"x":{"field":"i","type":"quantitative","scale":{"domain":[0.579,130.03],"nice":false,"zero":false},"axis":null},"y":{"field":"v","type":"quantitative","scale":{"domain":[-15.4,133.8],"nice":false,"zero":false},"axis":null}}},
{"layer":[
{"mark":{"type":"text","align":"left","baseline":"middle","fontSize":10,"color":"#ff0000"},"encoding":{"x":{"datum":1.743,"type":"quantitative","scale":{"domain":[0.579,130.03],"nice":false,"zero":false},"axis":null},"y":{"datum":120.07,"type":"quantitative","scale":{"domain":[-15.4,133.8],"nice":false,"zero":false},"axis":null},"text":{"value":"Stochastic_MFXI"}}},
{"mark":{"type":"text","align":"left","baseline":"middle","fontSize":10,"color":"#ff0000"},"encoding":{"x":{"datum":13.52,"type":"quantitative","scale":{"domain":[0.579,130.03],"nice":false,"zero":false},"axis":null},"y":{"datum":120.07,"type":"quantitative","scale":{"domain":[-15.4,133.8],"nice":false,"zero":false},"axis":null},"text":{"value":"SK:"}}},
{"mark":{"type":"text","align":"left","baseline":"middle","fontSize":10,"color":"#000080"},"encoding":{"x":{"datum":16.25,"type":"quantitative","scale":{"domain":[0.579,130.03],"nice":false,"zero":false},"axis":null},"y":{"datum":120.07,"type":"quantitative","scale":{"domain":[-15.4,133.8],"nice":false,"zero":false},"axis":null},"text":{"value":"70,4779"}}},
{"mark":{"type":"text","align":"left","baseline":"middle","fontSize":10,"color":"#000000"},"encoding":{"x":{"datum":22.64,"type":"quantitative","scale":{"domain":[0.579,130.03],"nice":false,"zero":false},"axis":null},"y":{"datum":120.07,"type":"quantitative","scale":{"domain":[-15.4,133.8],"nice":false,"zero":false},"axis":null},"text":{"value":"SD:"}}},
{"mark":{"type":"text","align":"left","baseline":"middle","fontSize":10,"color":"#000080"},"encoding":{"x":{"datum":25.12,"type":"quantitative","scale":{"domain":[0.579,130.03],"nice":false,"zero":false},"axis":null},"y":{"datum":120.07,"type":"quantitative","scale":{"domain":[-15.4,133.8],"nice":false,"zero":false},"axis":null},"text":{"value":"67,9603"}}},
{"mark":{"type":"text","align":"left","baseline":"middle","fontSize":10,"color":"#0000ff"},"encoding":{"x":{"datum":31.53,"type":"quantitative","scale":{"domain":[0.579,130.03],"nice":false,"zero":false},"axis":null},"y":{"datum":120.07,"type":"quantitative","scale":{"domain":[-15.4,133.8],"nice":false,"zero":false},"axis":null},"text":{"value":"UppperBand:"}}},
{"mark":{"type":"text","align":"left","baseline":"middle","fontSize":10,"color":"#000080"},"encoding":{"x":{"datum":39.85,"type":"quantitative","scale":{"domain":[0.579,130.03],"nice":false,"zero":false},"axis":null},"y":{"datum":120.07,"type":"quantitative","scale":{"domain":[-15.4,133.8],"nice":false,"zero":false},"axis":null},"text":{"value":"80,0000"}}},
{"mark":{"type":"text","align":"left","baseline":"middle","fontSize":10,"color":"#0000ff"},"encoding":{"x":{"datum":46.76,"type":"quantitative","scale":{"domain":[0.579,130.03],"nice":false,"zero":false},"axis":null},"y":{"datum":120.07,"type":"quantitative","scale":{"domain":[-15.4,133.8],"nice":false,"zero":false},"axis":null},"text":{"value":"LowerBand:"}}},
{"mark":{"type":"text","align":"left","baseline":"middle","fontSize":10,"color":"#000080"},"encoding":{"x":{"datum":54.81,"type":"quantitative","scale":{"domain":[0.579,130.03],"nice":false,"zero":false},"axis":null},"y":{"datum":120.07,"type":"quantitative","scale":{"domain":[-15.4,133.8],"nice":false,"zero":false},"axis":null},"text":{"value":"20,0000"}}},
{"mark":{"type":"text","align":"left","baseline":"middle","fontSize":10,"color":"#ff0000"},"encoding":{"x":{"datum":61.21,"type":"quantitative","scale":{"domain":[0.579,130.03],"nice":false,"zero":false},"axis":null},"y":{"datum":120.07,"type":"quantitative","scale":{"domain":[-15.4,133.8],"nice":false,"zero":false},"axis":null},"text":{"value":"P: 127,1186"}}}
]},
{"layer":[
{"mark":{"type":"rect","fill":"#d4d0c8","stroke":"#404040","strokeWidth":1},"encoding":{"x":{"datum":137.32,"type":"quantitative","scale":{"domain":[0.579,130.03],"nice":false,"zero":false},"axis":null},"x2":{"datum":138.63},"y":{"datum":126.4,"type":"quantitative","scale":{"domain":[-15.4,133.8],"nice":false,"zero":false},"axis":null},"y2":{"datum":113.2}}},
{"mark":{"type":"rect","fill":"#d4d0c8","stroke":"#404040","strokeWidth":1},"encoding":{"x":{"datum":139.05,"type":"quantitative","scale":{"domain":[0.579,130.03],"nice":false,"zero":false},"axis":null},"x2":{"datum":140.37},"y":{"datum":126.4,"type":"quantitative","scale":{"domain":[-15.4,133.8],"nice":false,"zero":false},"axis":null},"y2":{"datum":113.2}}},
{"mark":{"type":"rect","fill":"#d4d0c8","stroke":"#404040","strokeWidth":1},"encoding":{"x":{"datum":140.83,"type":"quantitative","scale":{"domain":[0.579,130.03],"nice":false,"zero":false},"axis":null},"x2":{"datum":142.23},"y":{"datum":126.4,"type":"quantitative","scale":{"domain":[-15.4,133.8],"nice":false,"zero":false},"axis":null},"y2":{"datum":113.2}}},
{"mark":{"type":"text","align":"center","baseline":"middle","fontSize":9,"fontWeight":"bold","font":"DejaVu Sans","color":"#000000"},"encoding":{"x":{"datum":137.97,"type":"quantitative","scale":{"domain":[0.579,130.03],"nice":false,"zero":false},"axis":null},"y":{"datum":118.5,"type":"quantitative","scale":{"domain":[-15.4,133.8],"nice":false,"zero":false},"axis":null},"text":{"value":"_"}}},
{"mark":{"type":"text","align":"center","baseline":"middle","fontSize":9,"fontWeight":"bold","font":"DejaVu Sans","color":"#000000"},"encoding":{"x":{"datum":139.71,"type":"quantitative","scale":{"domain":[0.579,130.03],"nice":false,"zero":false},"axis":null},"y":{"datum":119.8,"type":"quantitative","scale":{"domain":[-15.4,133.8],"nice":false,"zero":false},"axis":null},"text":{"value":"□"}}},
{"mark":{"type":"text","align":"center","baseline":"middle","fontSize":9,"fontWeight":"bold","font":"DejaVu Sans","color":"#000000"},"encoding":{"x":{"datum":141.53,"type":"quantitative","scale":{"domain":[0.579,130.03],"nice":false,"zero":false},"axis":null},"y":{"datum":119.8,"type":"quantitative","scale":{"domain":[-15.4,133.8],"nice":false,"zero":false},"axis":null},"text":{"value":"×"}}}
]},
{"mark":{"type":"rule","color":"#000000","strokeWidth":1.5},"encoding":{"x":{"datum":130.03,"type":"quantitative","scale":{"domain":[0.579,130.03],"nice":false,"zero":false},"axis":null},"x2":{"datum":142.93},"y":{"datum":-15.4,"type":"quantitative","scale":{"domain":[-15.4,133.8],"nice":false,"zero":false},"axis":null}}},
{"data":{"name":"ytk"},"mark":{"type":"rule","color":"#000080","strokeWidth":1},"encoding":{"x":{"datum":130.1,"type":"quantitative","scale":{"domain":[0.579,130.03],"nice":false,"zero":false},"axis":null},"x2":{"datum":130.8},"y":{"field":"v","type":"quantitative","scale":{"domain":[-15.4,133.8],"nice":false,"zero":false},"axis":null}}},
{"data":{"name":"ytk"},"mark":{"type":"text","align":"left","baseline":"middle","fontSize":12,"color":"#000080"},"encoding":{"x":{"datum":131.01,"type":"quantitative","scale":{"domain":[0.579,130.03],"nice":false,"zero":false},"axis":null},"y":{"field":"v","type":"quantitative","scale":{"domain":[-15.4,133.8],"nice":false,"zero":false},"axis":null},"text":{"field":"lab"}}},
{"mark":{"type":"rect","fill":"#ffffc0","stroke":"#000000","strokeWidth":1},"encoding":{"x":{"datum":131.0,"type":"quantitative","scale":{"domain":[0.579,130.03],"nice":false,"zero":false},"axis":null},"x2":{"datum":135.8},"y":{"datum":83.5,"type":"quantitative","scale":{"domain":[-15.4,133.8],"nice":false,"zero":false},"axis":null},"y2":{"datum":60.0}}},
{"mark":{"type":"text","align":"center","baseline":"middle","fontSize":12,"color":"#000000"},"encoding":{"x":{"datum":133.4,"type":"quantitative","scale":{"domain":[0.579,130.03],"nice":false,"zero":false},"axis":null},"y":{"datum":71.75,"type":"quantitative","scale":{"domain":[-15.4,133.8],"nice":false,"zero":false},"axis":null},"text":{"value":"70,48"}}},
{"mark":{"type":"text","align":"center","baseline":"middle","fontSize":9,"color":"#000000"},"encoding":{"x":{"datum":130.55,"type":"quantitative","scale":{"domain":[0.579,130.03],"nice":false,"zero":false},"axis":null},"y":{"datum":71.75,"type":"quantitative","scale":{"domain":[-15.4,133.8],"nice":false,"zero":false},"axis":null},"text":{"value":"<"}}}
]
},
{
"width": 923, "height": 67,
"layer": [
{"data":{"name":"months"},"mark":{"type":"rule","color":"#4a4a4a","strokeDash":[1,3],"strokeWidth":1},"encoding":{"x":{"field":"i","type":"quantitative","scale":{"domain":[0.579,130.03],"nice":false,"zero":false},"axis":null}}},
{"data":{"name":"ytk"},"mark":{"type":"rule","color":"#4a4a4a","strokeDash":[1,3],"strokeWidth":1},"encoding":{"y":{"field":"v","type":"quantitative","scale":{"domain":[-91.2,219],"nice":false,"zero":false},"axis":null}}},
{"mark":{"type":"rect","fill":"#ffffe1"},"encoding":{"x":{"datum":-0.122,"type":"quantitative","scale":{"domain":[0.579,130.03],"nice":false,"zero":false},"axis":null},"x2":{"datum":142.93},"y":{"datum":-95.8,"type":"quantitative","scale":{"domain":[-91.2,219],"nice":false,"zero":false},"axis":null},"y2":{"datum":-174.5}}},
{"data":{"name":"months"},"mark":{"type":"rule","color":"#000000","strokeWidth":1},"encoding":{"x":{"field":"i","type":"quantitative","scale":{"domain":[0.579,130.03],"nice":false,"zero":false},"axis":null},"y":{"datum":-95.8,"type":"quantitative","scale":{"domain":[-91.2,219],"nice":false,"zero":false},"axis":null},"y2":{"datum":-128.2}}},
{"data":{"name":"months"},"mark":{"type":"text","align":"left","baseline":"alphabetic","dx":3,"fontSize":12,"color":"#000000"},"encoding":{"x":{"field":"i","type":"quantitative","scale":{"domain":[0.579,130.03],"nice":false,"zero":false},"axis":null},"y":{"datum":-160.6,"type":"quantitative","scale":{"domain":[-91.2,219],"nice":false,"zero":false},"axis":null},"text":{"field":"m"}}},
{"mark":{"type":"rule","color":"#0000ff","strokeWidth":1.5},"encoding":{"x":{"datum":1.18,"type":"quantitative","scale":{"domain":[0.579,130.03],"nice":false,"zero":false},"axis":null},"x2":{"datum":109},"y":{"datum":0,"type":"quantitative","scale":{"domain":[-91.2,219],"nice":false,"zero":false},"axis":null}}},
{"data":{"name":"macd"},"transform":[{"filter":"datum.s == 'S'"}],"mark":{"type":"line","color":"#000000","strokeWidth":1,"strokeDash":[3,2]},"encoding":{"x":{"field":"i","type":"quantitative","scale":{"domain":[0.579,130.03],"nice":false,"zero":false},"axis":null},"y":{"field":"v","type":"quantitative","scale":{"domain":[-91.2,219],"nice":false,"zero":false},"axis":null}}},
{"data":{"name":"macd"},"transform":[{"filter":"datum.s == 'M'"}],"mark":{"type":"line","color":"#ff0000","strokeWidth":1},"encoding":{"x":{"field":"i","type":"quantitative","scale":{"domain":[0.579,130.03],"nice":false,"zero":false},"axis":null},"y":{"field":"v","type":"quantitative","scale":{"domain":[-91.2,219],"nice":false,"zero":false},"axis":null}}},
{"layer":[
{"mark":{"type":"text","align":"left","baseline":"middle","fontSize":10,"color":"#ff0000"},"encoding":{"x":{"datum":1.743,"type":"quantitative","scale":{"domain":[0.579,130.03],"nice":false,"zero":false},"axis":null},"y":{"datum":183.3,"type":"quantitative","scale":{"domain":[-91.2,219],"nice":false,"zero":false},"axis":null},"text":{"value":"MACD_MFXI"}}},
{"mark":{"type":"text","align":"left","baseline":"middle","fontSize":10,"color":"#ff0000"},"encoding":{"x":{"datum":11.1,"type":"quantitative","scale":{"domain":[0.579,130.03],"nice":false,"zero":false},"axis":null},"y":{"datum":183.3,"type":"quantitative","scale":{"domain":[-91.2,219],"nice":false,"zero":false},"axis":null},"text":{"value":"MACD:"}}},
{"mark":{"type":"text","align":"left","baseline":"middle","fontSize":10,"color":"#000080"},"encoding":{"x":{"datum":16.47,"type":"quantitative","scale":{"domain":[0.579,130.03],"nice":false,"zero":false},"axis":null},"y":{"datum":183.3,"type":"quantitative","scale":{"domain":[-91.2,219],"nice":false,"zero":false},"axis":null},"text":{"value":"5,7995"}}},
{"mark":{"type":"text","align":"left","baseline":"middle","fontSize":10,"color":"#000000"},"encoding":{"x":{"datum":22.64,"type":"quantitative","scale":{"domain":[0.579,130.03],"nice":false,"zero":false},"axis":null},"y":{"datum":183.3,"type":"quantitative","scale":{"domain":[-91.2,219],"nice":false,"zero":false},"axis":null},"text":{"value":"MediaSIG:"}}},
{"mark":{"type":"text","align":"left","baseline":"middle","fontSize":10,"color":"#000080"},"encoding":{"x":{"datum":29.33,"type":"quantitative","scale":{"domain":[0.579,130.03],"nice":false,"zero":false},"axis":null},"y":{"datum":183.3,"type":"quantitative","scale":{"domain":[-91.2,219],"nice":false,"zero":false},"axis":null},"text":{"value":"-7,8385"}}},
{"mark":{"type":"text","align":"left","baseline":"middle","fontSize":10,"color":"#0000ff"},"encoding":{"x":{"datum":34.94,"type":"quantitative","scale":{"domain":[0.579,130.03],"nice":false,"zero":false},"axis":null},"y":{"datum":183.3,"type":"quantitative","scale":{"domain":[-91.2,219],"nice":false,"zero":false},"axis":null},"text":{"value":"Band_MACD:"}}},
{"mark":{"type":"text","align":"left","baseline":"middle","fontSize":10,"color":"#000080"},"encoding":{"x":{"datum":43.59,"type":"quantitative","scale":{"domain":[0.579,130.03],"nice":false,"zero":false},"axis":null},"y":{"datum":183.3,"type":"quantitative","scale":{"domain":[-91.2,219],"nice":false,"zero":false},"axis":null},"text":{"value":"0,0000"}}},
{"mark":{"type":"text","align":"left","baseline":"middle","fontSize":10,"color":"#ff0000"},"encoding":{"x":{"datum":49.43,"type":"quantitative","scale":{"domain":[0.579,130.03],"nice":false,"zero":false},"axis":null},"y":{"datum":183.3,"type":"quantitative","scale":{"domain":[-91.2,219],"nice":false,"zero":false},"axis":null},"text":{"value":"P: 604,3209"}}}
]},
{"layer":[
{"mark":{"type":"rect","fill":"#d4d0c8","stroke":"#404040","strokeWidth":1},"encoding":{"x":{"datum":137.32,"type":"quantitative","scale":{"domain":[0.579,130.03],"nice":false,"zero":false},"axis":null},"x2":{"datum":138.63},"y":{"datum":200.5,"type":"quantitative","scale":{"domain":[-91.2,219],"nice":false,"zero":false},"axis":null},"y2":{"datum":164.8}}},
{"mark":{"type":"rect","fill":"#d4d0c8","stroke":"#404040","strokeWidth":1},"encoding":{"x":{"datum":139.05,"type":"quantitative","scale":{"domain":[0.579,130.03],"nice":false,"zero":false},"axis":null},"x2":{"datum":140.37},"y":{"datum":200.5,"type":"quantitative","scale":{"domain":[-91.2,219],"nice":false,"zero":false},"axis":null},"y2":{"datum":164.8}}},
{"mark":{"type":"rect","fill":"#d4d0c8","stroke":"#404040","strokeWidth":1},"encoding":{"x":{"datum":140.83,"type":"quantitative","scale":{"domain":[0.579,130.03],"nice":false,"zero":false},"axis":null},"x2":{"datum":142.23},"y":{"datum":200.5,"type":"quantitative","scale":{"domain":[-91.2,219],"nice":false,"zero":false},"axis":null},"y2":{"datum":164.8}}},
{"mark":{"type":"text","align":"center","baseline":"middle","fontSize":9,"fontWeight":"bold","font":"DejaVu Sans","color":"#000000"},"encoding":{"x":{"datum":137.97,"type":"quantitative","scale":{"domain":[0.579,130.03],"nice":false,"zero":false},"axis":null},"y":{"datum":178,"type":"quantitative","scale":{"domain":[-91.2,219],"nice":false,"zero":false},"axis":null},"text":{"value":"_"}}},
{"mark":{"type":"text","align":"center","baseline":"middle","fontSize":9,"fontWeight":"bold","font":"DejaVu Sans","color":"#000000"},"encoding":{"x":{"datum":139.71,"type":"quantitative","scale":{"domain":[0.579,130.03],"nice":false,"zero":false},"axis":null},"y":{"datum":183.5,"type":"quantitative","scale":{"domain":[-91.2,219],"nice":false,"zero":false},"axis":null},"text":{"value":"□"}}},
{"mark":{"type":"text","align":"center","baseline":"middle","fontSize":9,"fontWeight":"bold","font":"DejaVu Sans","color":"#000000"},"encoding":{"x":{"datum":141.53,"type":"quantitative","scale":{"domain":[0.579,130.03],"nice":false,"zero":false},"axis":null},"y":{"datum":183.5,"type":"quantitative","scale":{"domain":[-91.2,219],"nice":false,"zero":false},"axis":null},"text":{"value":"×"}}}
]},
{"mark":{"type":"rule","color":"#000000","strokeWidth":1.5},"encoding":{"x":{"datum":130.03,"type":"quantitative","scale":{"domain":[0.579,130.03],"nice":false,"zero":false},"axis":null},"x2":{"datum":142.93},"y":{"datum":-91.2,"type":"quantitative","scale":{"domain":[-91.2,219],"nice":false,"zero":false},"axis":null}}},
{"data":{"name":"ytk"},"mark":{"type":"rule","color":"#000080","strokeWidth":1},"encoding":{"x":{"datum":130.1,"type":"quantitative","scale":{"domain":[0.579,130.03],"nice":false,"zero":false},"axis":null},"x2":{"datum":130.8},"y":{"field":"v","type":"quantitative","scale":{"domain":[-91.2,219],"nice":false,"zero":false},"axis":null}}},
{"data":{"name":"ytk"},"mark":{"type":"text","align":"left","baseline":"middle","fontSize":12,"color":"#000080"},"encoding":{"x":{"datum":131.01,"type":"quantitative","scale":{"domain":[0.579,130.03],"nice":false,"zero":false},"axis":null},"y":{"field":"v","type":"quantitative","scale":{"domain":[-91.2,219],"nice":false,"zero":false},"axis":null},"text":{"field":"lab"}}},
{"mark":{"type":"rect","fill":"#ffffc0","stroke":"#000000","strokeWidth":1},"encoding":{"x":{"datum":131.0,"type":"quantitative","scale":{"domain":[0.579,130.03],"nice":false,"zero":false},"axis":null},"x2":{"datum":134.75},"y":{"datum":30.6,"type":"quantitative","scale":{"domain":[-91.2,219],"nice":false,"zero":false},"axis":null},"y2":{"datum":-27.8}}},
{"mark":{"type":"text","align":"center","baseline":"middle","fontSize":12,"color":"#000000"},"encoding":{"x":{"datum":132.9,"type":"quantitative","scale":{"domain":[0.579,130.03],"nice":false,"zero":false},"axis":null},"y":{"datum":1.4,"type":"quantitative","scale":{"domain":[-91.2,219],"nice":false,"zero":false},"axis":null},"text":{"value":"5,80"}}},
{"mark":{"type":"text","align":"center","baseline":"middle","fontSize":9,"color":"#000000"},"encoding":{"x":{"datum":130.55,"type":"quantitative","scale":{"domain":[0.579,130.03],"nice":false,"zero":false},"axis":null},"y":{"datum":1.4,"type":"quantitative","scale":{"domain":[-91.2,219],"nice":false,"zero":false},"axis":null},"text":{"value":"<"}}}
]
}
]
}
